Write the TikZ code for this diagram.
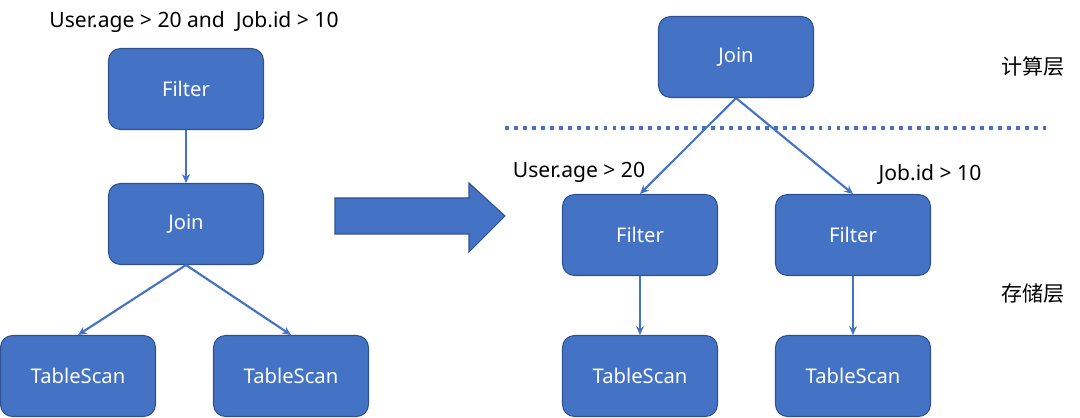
\documentclass[tikz,border=0pt]{standalone}
\usepackage{fontspec}
\setmainfont{Noto Sans}
\newfontfamily\cjk{Noto Sans CJK SC}
\usepackage{xcolor}
\usepackage{tikz}
\usetikzlibrary{arrows.meta, positioning}

\definecolor{boxblue}{HTML}{4472C4}
\definecolor{boxedge}{HTML}{2F528F}

\begin{document}
\begin{tikzpicture}[x=0.02cm, y=-0.02cm, >={Stealth[length=5pt, width=4.5pt]},
    opbox/.style={rectangle, rounded corners=0.24cm, fill=boxblue, draw=boxedge,
        line width=0.6pt, minimum width=3.1cm, minimum height=1.62cm,
        text=white, font=\fontsize{11.5}{14}\selectfont},
    cond/.style={font=\fontsize{12}{15}\selectfont, text=black},
    layer/.style={font=\cjk\fontsize{12}{14}\selectfont, text=black},
    link/.style={->, draw=boxblue, line width=1.2pt}]

    % =================================================================
    % 1. KHUNG HÌNH
    % =================================================================
    \useasboundingbox (0,0) rectangle (1080,418);

    % =================================================================
    % 2. CÂY BÊN TRÁI: Filter ở trên Join
    % =================================================================
    \node[opbox] (LFilter) at (186,89) {Filter};
    \node[opbox] (LJoin) at (186,224) {Join};
    \node[opbox] (LScanA) at (78,376) {TableScan};
    \node[opbox] (LScanB) at (291,376) {TableScan};
    \node[cond] (LCond) at (194,22) {User.age > 20 and\ \ Job.id > 10};

    \draw[link] (LFilter.south) -- (LJoin.north);
    \draw[link] (LJoin.south) -- (LScanA.north);
    \draw[link] (LJoin.south) -- (LScanB.north);

    % =================================================================
    % 3. MŨI TÊN LỚN Ở GIỮA
    % =================================================================
    \filldraw[fill=boxblue, draw=boxedge, line width=0.6pt]
        (335,198) -- (469,198) -- (469,183) -- (505,216)
        -- (469,252) -- (469,234) -- (335,234) -- cycle;

    % =================================================================
    % 4. CÂY BÊN PHẢI: Filter được đẩy xuống
    % =================================================================
    \node[opbox] (RJoin) at (736,57) {Join};
    \node[opbox] (RFilterA) at (640,235) {Filter};
    \node[opbox] (RFilterB) at (853,235) {Filter};
    \node[opbox] (RScanA) at (640,376) {TableScan};
    \node[opbox] (RScanB) at (853,376) {TableScan};
    \node[cond] (RCondA) at (579,172) {User.age > 20};
    \node[cond] (RCondB) at (930,174) {Job.id > 10};

    % Đường chấm phân cách hai tầng
    \coordinate (SepStart) at (505,128);
    \coordinate (SepEnd) at (1048,128);
    \draw[boxblue, line width=2.2pt, dash pattern=on 2.2pt off 2.9pt] (SepStart) -- (SepEnd);

    \draw[link] (RJoin.south) -- (RFilterA.north);
    \draw[link] (RJoin.south) -- (RFilterB.north);
    \draw[link] (RFilterA.south) -- (RScanA.north);
    \draw[link] (RFilterB.south) -- (RScanB.north);

    % =================================================================
    % 5. NHÃN CÁC TẦNG
    % =================================================================
    \node[layer] (Compute) at (1033,67) {计算层};
    \node[layer] (Storage) at (1033,294) {存储层};

\end{tikzpicture}
\end{document}
